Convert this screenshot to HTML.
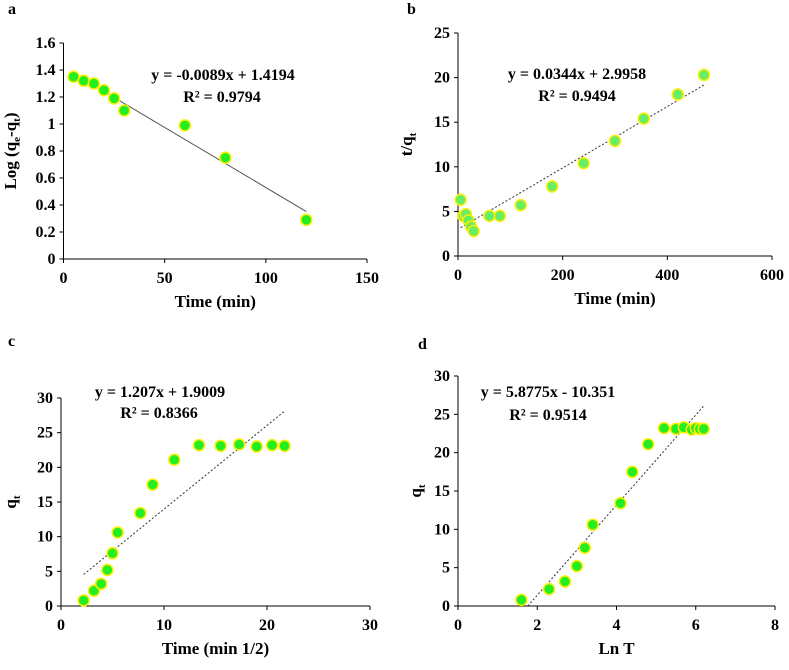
<!DOCTYPE html>
<html><head><meta charset="utf-8"><style>
body{margin:0;background:#fff;width:789px;height:665px;overflow:hidden}
svg{font-family:"Liberation Serif",serif;font-weight:bold}
</style></head><body>
<svg id="s" width="789" height="665"></svg>
<script>
const NS="http://www.w3.org/2000/svg";
const svg=document.getElementById('s');
// Panel a data
const aX=[5,10,15,20,25,30,60,80,120];
const aY=[1.35,1.32,1.30,1.25,1.19,1.10,0.99,0.75,0.29];
const aYTicks=[0,0.2,0.4,0.6,0.8,1,1.2,1.4,1.6];
const aXTicks=[0,50,100,150];
const aFit=[-0.0089,1.4194];
// Panel b data
const bX=[5,10,15,20,25,30,60,80,120,180,240,300,355,420,470];
const bY=[6.3,4.5,4.7,4.0,3.3,2.8,4.5,4.5,5.7,7.8,10.4,12.9,15.4,18.1,20.3];
const bYTicks=[0,5,10,15,20,25];
const bXTicks=[0,200,400,600];
const bFit=[0.0344,2.9958];
// Panel c data
const cX=[2.2,3.2,3.9,4.5,5.0,5.5,7.7,8.9,11.0,13.4,15.5,17.3,19.0,20.5,21.7];
const cY=[0.8,2.2,3.2,5.2,7.6,10.6,13.4,17.5,21.1,23.2,23.1,23.3,23.0,23.2,23.1];
const cYTicks=[0,5,10,15,20,25,30];
const cXTicks=[0,10,20,30];
const cFit=[1.207,1.9009];
// Panel d data
const dX=[1.6,2.3,2.7,3.0,3.2,3.4,4.1,4.4,4.8,5.2,5.5,5.7,5.9,6.0,6.1,6.2];
const dY=[0.8,2.2,3.2,5.2,7.6,10.6,13.4,17.5,21.1,23.2,23.1,23.3,23.0,23.2,23.1,23.1];
const dYTicks=[0,5,10,15,20,25,30];
const dXTicks=[0,2,4,6,8];
const dFit=[5.8775,-10.351];

function el(t,a,p){const e=document.createElementNS(NS,t);for(const k in a)e.setAttribute(k,a[k]);(p||svg).appendChild(e);return e;}
function txt(s,a,p){const e=el('text',a,p);e.textContent=s;return e;}

function panel(o){
  const g=el('g',{});
  
  
  const sx=v=>o.x0+(v-o.xmin)/(o.xmax-o.xmin)*(o.x1-o.x0);
  const sy=v=>o.y0-(v-o.ymin)/(o.ymax-o.ymin)*(o.y0-o.y1);
  const l=txt(o.id,{x:o.lx,y:o.ly,'font-size':16},g);
  
  
  const ya=el('line',{x1:o.x0,y1:o.y0,x2:o.x0,y2:o.y1,stroke:'#000','stroke-width':1},g);
  
  
  const xa=el('line',{x1:o.x0,y1:o.y0,x2:o.x1,y2:o.y0,stroke:'#000','stroke-width':1},g);
  
  
  o.yt.forEach(v=>{
    el('line',{x1:o.x0-4,x2:o.x0,y1:sy(v),y2:sy(v),stroke:'#000'},g);
    const t=txt(String(v),{x:o.x0-8,y:sy(v)+5,'text-anchor':'end','font-size':16},g);
    
    
  });
  o.xt.forEach(v=>{
    el('line',{x1:sx(v),x2:sx(v),y1:o.y0,y2:o.y0+4,stroke:'#000'},g);
    const t=txt(String(v),{x:sx(v),y:o.y0+24,'text-anchor':'middle','font-size':16},g);
    
    
  });
  const xt=txt(o.xtitle,{x:(o.x0+o.x1)/2,y:o.y0+48,'text-anchor':'middle','font-size':17},g);
  
  
  const ytg=el('g',{transform:`translate(${o.ytx},${(o.y0+o.y1)/2}) rotate(-90)`},g);
  const yt=el('text',{x:0,y:0,'text-anchor':'middle','font-size':17},ytg);
  yt.innerHTML=o.ytitle;
  
  
  const fx0=o.fitFrom!==undefined?o.fitFrom:o.xs[0], fx1=o.xs[o.xs.length-1];
  const tl=el('line',{x1:sx(fx0),y1:sy(o.fit[0]*fx0+o.fit[1]),x2:sx(fx1),y2:sy(o.fit[0]*fx1+o.fit[1]),stroke:o.dot?'#333':'#555','stroke-width':1,'stroke-dasharray':o.dot?'2,2':'none'},g);
  
  
  o.xs.forEach((v,i)=>{
    const c=el('circle',{cx:sx(v),cy:sy(o.ys[i]),r:5.5,fill:o.fill,stroke:'#ffee00','stroke-width':1.5},g);
    
    
  });
  const e1=txt(o.eq,{x:o.ex,y:o.ey,'text-anchor':'middle','font-size':16},g);
  
  
  const e2=txt(o.r2,{x:o.rx,y:o.ry,'text-anchor':'middle','font-size':16},g);
  
  
}
panel({id:'a',lx:8,ly:14,x0:63.5,x1:367,y0:259,y1:43,xmin:0,xmax:150,ymin:0,ymax:1.6,xs:aX,ys:aY,yt:aYTicks,xt:aXTicks,fit:aFit,dot:false,fill:'#22ee22',
  xtitle:'Time (min)',ytx:16,ytitle:'Log (q<tspan font-size="11" dy="4">e</tspan><tspan dy="-4">-q</tspan><tspan font-size="11" dy="4">t</tspan><tspan dy="-4">)</tspan>',
  eq:'y = -0.0089x + 1.4194',ex:223,ey:80,r2:'R² = 0.9794',rx:222,ry:102});
panel({id:'b',lx:407,ly:14,x0:458,x1:772,y0:256,y1:33,xmin:0,xmax:600,ymin:0,ymax:25,xs:bX,ys:bY,yt:bYTicks,xt:bXTicks,fit:bFit,dot:true,fill:'#66ee66',
  xtitle:'Time (min)',ytx:412,ytitle:'t/q<tspan font-size="11" dy="4">t</tspan>',
  eq:'y = 0.0344x + 2.9958',ex:577,ey:79,r2:'R² = 0.9494',rx:577,ry:101});
panel({id:'c',lx:8,ly:346,x0:61,x1:370,y0:606,y1:398,xmin:0,xmax:30,ymin:0,ymax:30,xs:cX,ys:cY,yt:cYTicks,xt:cXTicks,fit:cFit,dot:true,fill:'#22ee22',
  xtitle:'Time (min 1/2)',ytx:16,ytitle:'q<tspan font-size="11" dy="4">t</tspan>',
  eq:'y = 1.207x + 1.9009',ex:160,ey:397,r2:'R² = 0.8366',rx:159,ry:418});
panel({id:'d',lx:418,ly:349,x0:458,x1:775,y0:606,y1:376,xmin:0,xmax:8,ymin:0,ymax:30,xs:dX,ys:dY,yt:dYTicks,xt:dXTicks,fit:dFit,fitFrom:1.76,dot:true,fill:'#22ee22',
  xtitle:'Ln T',ytx:421,ytitle:'q<tspan font-size="11" dy="4">t</tspan>',
  eq:'y = 5.8775x - 10.351',ex:548,ey:397,r2:'R² = 0.9514',rx:548,ry:420});
</script>
</body></html>
